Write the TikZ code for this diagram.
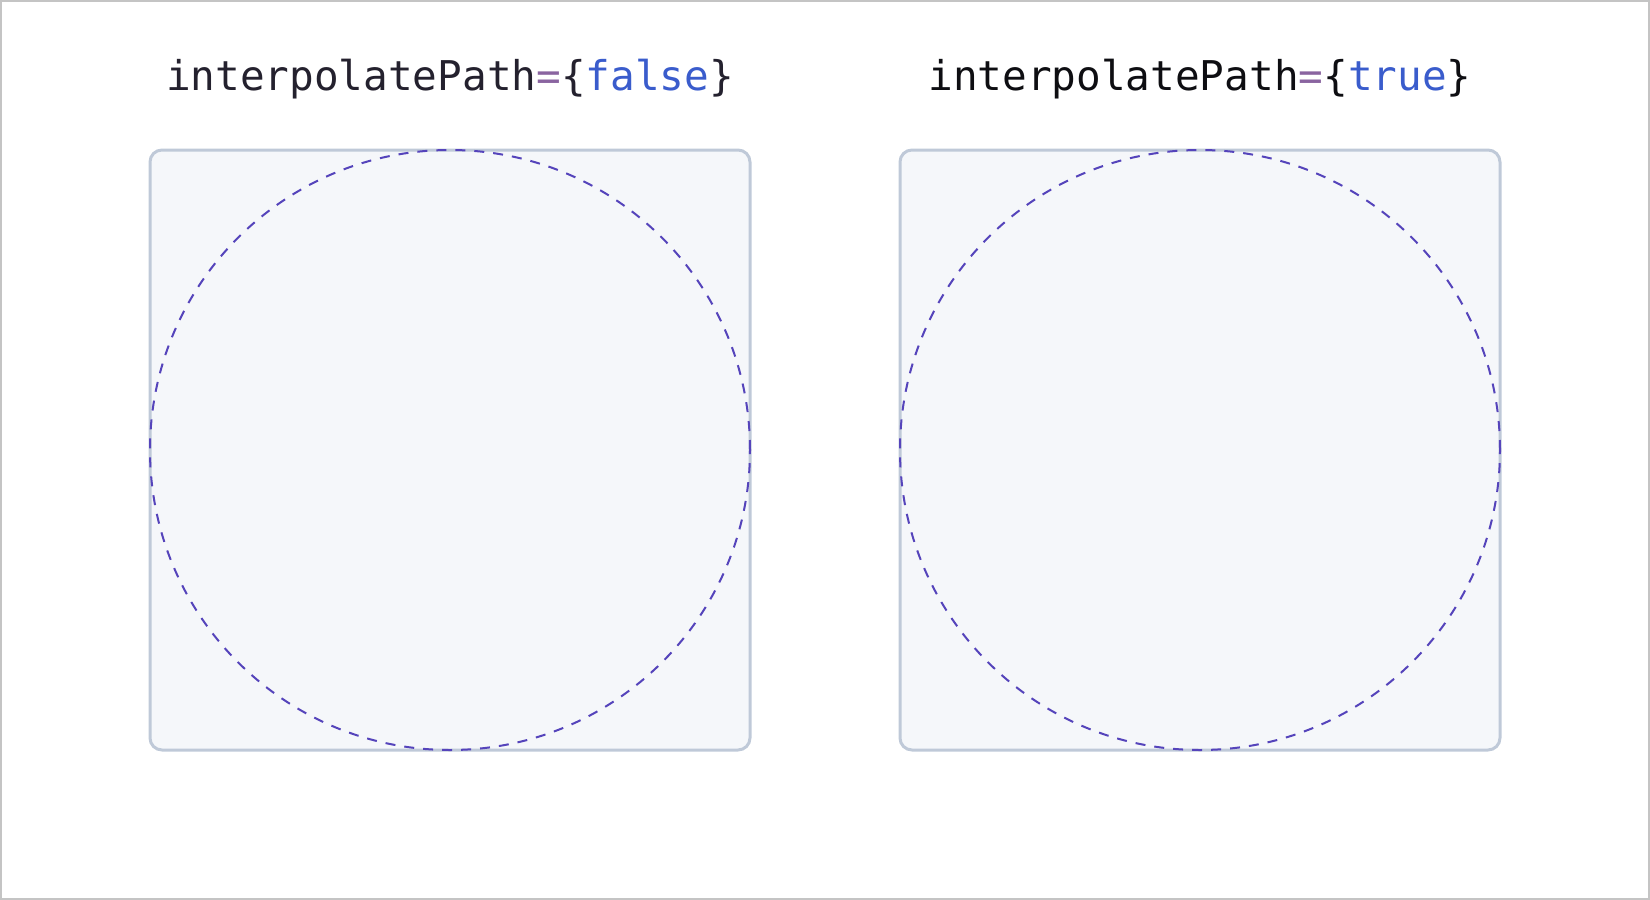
\documentclass[tikz,border=0pt]{standalone}
\usepackage{fontspec}
\setmonofont{DejaVu Sans Mono}
\definecolor{txt}{HTML}{24212E}
\definecolor{txtb}{HTML}{0E0E12}
\definecolor{eqc}{HTML}{8A64A0}
\definecolor{kw}{HTML}{3A5CCC}
\definecolor{boxfill}{HTML}{F5F7FA}
\definecolor{boxline}{HTML}{BFC9D8}
\definecolor{circ}{HTML}{5544BB}
\definecolor{frame}{HTML}{C4C4C4}
\begin{document}
\begin{tikzpicture}[x=1pt,y=-1pt,
  title/.style={font=\ttfamily\fontsize{41}{46}\selectfont, text=txt, inner sep=0pt, anchor=base},
  panel/.style={draw=boxline, line width=3pt, fill=boxfill, rounded corners=12pt, minimum width=600pt, minimum height=600pt, inner sep=0pt},
  ring/.style={draw=circ, line width=2pt, dash pattern=on 10pt off 9pt, circle, minimum size=600pt, inner sep=0pt}]
\path[use as bounding box, draw=frame, line width=2pt] (1,1) rectangle (1649,899);
\node[title] (t1) at (450,90) {interpolatePath\textcolor{eqc}{=}\{\textcolor{kw}{false}\}};
\node[title, text=txtb] (t2) at (1200,90) {interpolatePath\textcolor{eqc}{=}\{\textcolor{kw}{true}\}};
\node[panel] (b1) at (450,450) {};
\node[panel] (b2) at (1200,450) {};
\node[ring] (c1) at (b1.center) {};
\node[ring] (c2) at (b2.center) {};
\end{tikzpicture}
\end{document}
